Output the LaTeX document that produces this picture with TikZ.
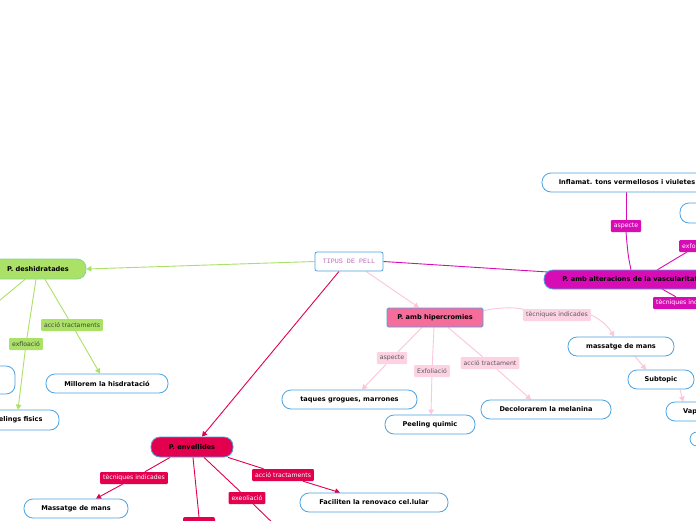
\documentclass[tikz,border=0pt]{standalone}
\usepackage{fontspec}
\setmainfont{DejaVu Sans}
\newfontfamily\monofam{Liberation Mono}
\usetikzlibrary{arrows.meta,backgrounds}
\definecolor{nodeblue}{HTML}{4AA3E2}
\definecolor{gr}{HTML}{ABE166}
\definecolor{grb}{HTML}{86D69A}
\definecolor{rd}{HTML}{E3004F}
\definecolor{pk}{HTML}{F46D9B}
\definecolor{pkl}{HTML}{FCC6DC}
\definecolor{pklab}{HTML}{FDD3E3}
\definecolor{mg}{HTML}{D80CB5}
\definecolor{roottxt}{HTML}{B86BB8}
\tikzset{
  topic/.style={draw=nodeblue, line width=0.8pt, fill=white, rounded corners=9pt,
    minimum height=19pt, inner sep=0pt, text=black,
    font=\bfseries\fontsize{6.6}{7}\selectfont},
  lab/.style={rounded corners=1pt, inner xsep=3pt, inner ysep=0pt, minimum height=12pt,
    font=\fontsize{6.2}{7}\selectfont},
  glab/.style={lab, fill=gr, text=black!75},
  rlab/.style={lab, fill=rd, text=white},
  plab/.style={lab, fill=pklab, text=black!65},
  mlab/.style={lab, fill=mg, text=white},
  tip/.style={-{Triangle[length=5pt,width=5.5pt]}},
  gl/.style={draw=gr, line width=0.9pt},
  rl/.style={draw=rd, line width=0.9pt},
  pl/.style={draw=pkl, line width=0.9pt},
  ml/.style={draw=mg, line width=0.9pt},
}
\begin{document}
\begin{tikzpicture}[x=1pt,y=-1pt]
\useasboundingbox (0,0) rectangle (696,520);
\clip (0,0) rectangle (696,520);
% nodes
\node[draw=nodeblue, line width=0.8pt, fill=white, rounded corners=2pt, minimum width=68pt,
  minimum height=19pt, inner sep=0pt, font=\monofam\fontsize{6.7}{7}\selectfont, text=roottxt]
  (root) at (349,261.5) {TIPUS DE PELL};
\node[topic, fill=gr, draw=grb, minimum width=96pt, minimum height=20pt] (deh) at (38,269) {P. deshidratades};
\node[topic, minimum width=80pt, minimum height=28pt] (lft) at (-25,380) {};
\node[topic, minimum width=86pt, minimum height=20pt] (pf) at (16,420) {Peelings fisics};
\node[topic, minimum width=122pt] (mil) at (107,383.5) {Millorem la hisdratació};
\node[topic, fill=rd, minimum width=82pt, minimum height=20pt] (env) at (192,447) {P. envellides};
\node[topic, minimum width=104pt] (mass) at (76,508.5) {Massatge de mans};
\node[fill=rd, rounded corners=2pt, minimum width=32pt, minimum height=20pt, inner sep=0pt] (rbot) at (199,527) {};
\node[topic, minimum width=148pt] (fac) at (374,502.5) {Faciliten la renovaco cel.lular};
\node[topic, fill=pk, rounded corners=1.5pt, minimum width=96pt] (hip) at (435,317.5) {P. amb hipercromies};
\node[topic, minimum width=135pt] (taq) at (349.5,399.5) {taques grogues, marrones};
\node[topic, minimum width=90pt] (pq) at (430,424.5) {Peeling quimic};
\node[topic, minimum width=130pt] (dec) at (546,409.5) {Decolorarem la melanina};
\node[topic, minimum width=106pt] (mm) at (621,346.5) {massatge de mans};
\node[topic, minimum width=66pt] (sub) at (661,379.5) {Subtopic};
\node[topic, minimum width=56pt] (vap) at (694,411.5) {Vapor};
\node[topic, minimum width=80pt, minimum height=14pt, rounded corners=7pt] (sml) at (730,439) {};
\node[topic, fill=mg, minimum width=172pt] (alt) at (630,279.5) {P. amb alteracions de la vascularitat};
\node[topic, minimum width=170pt] (inf) at (627,182.5) {Inflamat. tons vermellosos i viuletes};
\node[topic, minimum width=80pt, minimum height=20pt] (n2) at (720,213) {};
% labels
\node[glab] (l1) at (72,325) {acció tractaments};
\node[glab] (l2) at (26,344) {exfloació};
\node[rlab] (l3) at (134,478) {tècniques indicades};
\node[rlab] (l4) at (247,498) {exeoliació};
\node[rlab] (l5) at (283,475) {acció tractaments};
\node[plab] (l6) at (392,358) {aspecte};
\node[plab] (l7) at (432,371) {Exfoliació};
\node[plab] (l8) at (490,363) {acció tractament};
\node[plab] (l9) at (557,315) {tècniques indicades};
\node[mlab] (l10) at (626,226) {aspecte};
\node[mlab] (l11) at (697,246) {exfoliació};
\node[mlab] (l12) at (687,303) {tècniques indicades};
\coordinate (gl0) at (-12,310);
\coordinate (rl0) at (282,532);
\coordinate (ml0) at (740,218);
\coordinate (ml1) at (730,326);
% connectors
\begin{pgfonlayer}{background}
\fill[white] (0,0) rectangle (696,520);
\draw[gl, tip] (root.west) -- (deh.east);
\draw[gl] ([xshift=-13pt]deh.south) -- (gl0);
\draw[gl, tip] ([xshift=-2pt]deh.south) -- (l2) -- ([xshift=2pt]pf.north);
\draw[gl, tip] ([xshift=7pt]deh.south) -- (l1) -- ([xshift=-7pt]mil.north);
\draw[rl, tip] ([xshift=-10pt]root.south) -- ([xshift=10pt]env.north);
\draw[rl, tip] ([xshift=-22pt]env.south) -- (l3) -- ([xshift=20pt]mass.north);
\draw[rl] ([xshift=1pt]env.south) -- ([xshift=0pt]rbot.north);
\draw[rl] ([xshift=12pt]env.south) -- (l4) -- (rl0);
\draw[rl, tip] ([xshift=36pt]env.south) -- (l5) -- ([xshift=-34pt]fac.north);
\draw[pl, tip] ([xshift=17pt]root.south) -- ([xshift=-16pt]hip.north);
\draw[pl, tip] ([xshift=-13pt]hip.south) -- (l6) -- ([xshift=12.5pt]taq.north);
\draw[pl, tip] ([xshift=-1pt]hip.south) -- (l7) -- ([xshift=1pt]pq.north);
\draw[pl, tip] ([xshift=13pt]hip.south) -- (l8) -- ([xshift=-15pt]dec.north);
\draw[pl] ([yshift=-3pt]hip.north east) .. controls (505,306) and (535,307) .. (l9.west);
\draw[pl, tip] (l9.east) .. controls (600,319) and (608,326) .. ([xshift=-7pt]mm.north);
\draw[pl, tip] ([xshift=14pt]mm.south) -- ([xshift=-15pt]sub.north);
\draw[pl, tip] ([xshift=19pt]sub.south) -- ([xshift=-11pt]vap.north);
\draw[ml] (root.east) -- (548,272);
\draw[ml] (631,270) .. controls (628,255) .. (l10.south);
\draw[ml] (l10.north) -- (626,192);
\draw[ml] (657,270) -- (l11) -- (ml0);
\draw[ml] (662,289) -- (l12) -- (ml1);
\end{pgfonlayer}
\end{tikzpicture}
\end{document}
